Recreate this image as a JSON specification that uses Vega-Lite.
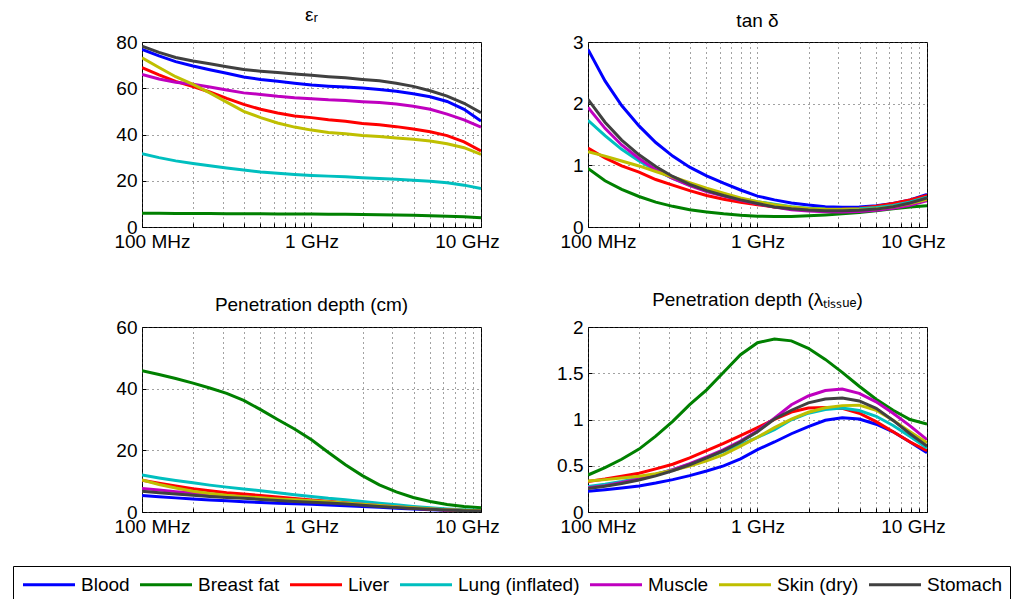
{
  "$schema": "https://vega.github.io/schema/vega-lite/v6.json",
  "background": "white",
  "padding": {"left": 12, "top": 5, "right": 0, "bottom": 0},
  "datasets": {
    "tissues": [
      {"t":"Blood","f":100,"er":76.8,"tan":2.88,"dcm":5.38,"dl":0.224},
      {"t":"Blood","f":126,"er":74.0,"tan":2.37,"dcm":4.97,"dl":0.241},
      {"t":"Blood","f":158,"er":71.5,"tan":1.97,"dcm":4.58,"dl":0.259},
      {"t":"Blood","f":200,"er":69.6,"tan":1.64,"dcm":4.23,"dl":0.281},
      {"t":"Blood","f":251,"er":68.0,"tan":1.37,"dcm":3.91,"dl":0.313},
      {"t":"Blood","f":316,"er":66.5,"tan":1.15,"dcm":3.62,"dl":0.350},
      {"t":"Blood","f":398,"er":64.9,"tan":0.97,"dcm":3.36,"dl":0.393},
      {"t":"Blood","f":501,"er":63.8,"tan":0.83,"dcm":3.08,"dl":0.443},
      {"t":"Blood","f":631,"er":63.0,"tan":0.71,"dcm":2.85,"dl":0.499},
      {"t":"Blood","f":794,"er":62.2,"tan":0.60,"dcm":2.66,"dl":0.575},
      {"t":"Blood","f":1000,"er":61.4,"tan":0.50,"dcm":2.48,"dl":0.674},
      {"t":"Blood","f":1259,"er":60.9,"tan":0.44,"dcm":2.26,"dl":0.757},
      {"t":"Blood","f":1585,"er":60.5,"tan":0.39,"dcm":2.02,"dl":0.846},
      {"t":"Blood","f":1995,"er":60.1,"tan":0.355,"dcm":1.77,"dl":0.924},
      {"t":"Blood","f":2512,"er":59.5,"tan":0.33,"dcm":1.51,"dl":0.991},
      {"t":"Blood","f":3162,"er":58.7,"tan":0.32,"dcm":1.25,"dl":1.020},
      {"t":"Blood","f":3981,"er":57.6,"tan":0.325,"dcm":0.985,"dl":1.005},
      {"t":"Blood","f":5012,"er":56.3,"tan":0.345,"dcm":0.747,"dl":0.949},
      {"t":"Blood","f":6310,"er":54.3,"tan":0.38,"dcm":0.55,"dl":0.867},
      {"t":"Blood","f":7943,"er":50.9,"tan":0.44,"dcm":0.39,"dl":0.757},
      {"t":"Blood","f":10000,"er":45.8,"tan":0.53,"dcm":0.275,"dl":0.640},

      {"t":"Breast fat","f":100,"er":5.9,"tan":0.95,"dcm":45.8,"dl":0.40},
      {"t":"Breast fat","f":126,"er":5.9,"tan":0.75,"dcm":44.6,"dl":0.48},
      {"t":"Breast fat","f":158,"er":5.8,"tan":0.61,"dcm":43.3,"dl":0.57},
      {"t":"Breast fat","f":200,"er":5.8,"tan":0.495,"dcm":41.8,"dl":0.68},
      {"t":"Breast fat","f":251,"er":5.8,"tan":0.404,"dcm":40.2,"dl":0.82},
      {"t":"Breast fat","f":316,"er":5.7,"tan":0.335,"dcm":38.5,"dl":0.98},
      {"t":"Breast fat","f":398,"er":5.7,"tan":0.28,"dcm":36.2,"dl":1.16},
      {"t":"Breast fat","f":501,"er":5.7,"tan":0.244,"dcm":33.2,"dl":1.32},
      {"t":"Breast fat","f":631,"er":5.6,"tan":0.213,"dcm":30.0,"dl":1.51},
      {"t":"Breast fat","f":794,"er":5.6,"tan":0.19,"dcm":26.9,"dl":1.70},
      {"t":"Breast fat","f":1000,"er":5.6,"tan":0.175,"dcm":23.4,"dl":1.83},
      {"t":"Breast fat","f":1259,"er":5.5,"tan":0.171,"dcm":19.3,"dl":1.87},
      {"t":"Breast fat","f":1585,"er":5.5,"tan":0.172,"dcm":15.3,"dl":1.85},
      {"t":"Breast fat","f":1995,"er":5.4,"tan":0.181,"dcm":11.8,"dl":1.77},
      {"t":"Breast fat","f":2512,"er":5.3,"tan":0.195,"dcm":8.8,"dl":1.65},
      {"t":"Breast fat","f":3162,"er":5.2,"tan":0.213,"dcm":6.5,"dl":1.51},
      {"t":"Breast fat","f":3981,"er":5.1,"tan":0.237,"dcm":4.7,"dl":1.36},
      {"t":"Breast fat","f":5012,"er":4.9,"tan":0.265,"dcm":3.4,"dl":1.22},
      {"t":"Breast fat","f":6310,"er":4.7,"tan":0.295,"dcm":2.45,"dl":1.10},
      {"t":"Breast fat","f":7943,"er":4.4,"tan":0.326,"dcm":1.8,"dl":1.00},
      {"t":"Breast fat","f":10000,"er":4.0,"tan":0.345,"dcm":1.35,"dl":0.95},

      {"t":"Liver","f":100,"er":68.9,"tan":1.28,"dcm":10.30,"dl":0.330},
      {"t":"Liver","f":126,"er":65.8,"tan":1.12,"dcm":9.33,"dl":0.356},
      {"t":"Liver","f":158,"er":63.0,"tan":0.99,"dcm":8.41,"dl":0.387},
      {"t":"Liver","f":200,"er":60.7,"tan":0.89,"dcm":7.56,"dl":0.419},
      {"t":"Liver","f":251,"er":58.4,"tan":0.77,"dcm":6.87,"dl":0.466},
      {"t":"Liver","f":316,"er":55.6,"tan":0.68,"dcm":6.26,"dl":0.516},
      {"t":"Liver","f":398,"er":53.0,"tan":0.59,"dcm":5.80,"dl":0.584},
      {"t":"Liver","f":501,"er":50.9,"tan":0.51,"dcm":5.39,"dl":0.664},
      {"t":"Liver","f":631,"er":49.3,"tan":0.45,"dcm":4.90,"dl":0.742},
      {"t":"Liver","f":794,"er":48.0,"tan":0.40,"dcm":4.42,"dl":0.826},
      {"t":"Liver","f":1000,"er":47.3,"tan":0.36,"dcm":3.92,"dl":0.912},
      {"t":"Liver","f":1259,"er":46.4,"tan":0.326,"dcm":3.46,"dl":1.002},
      {"t":"Liver","f":1585,"er":45.7,"tan":0.301,"dcm":2.99,"dl":1.081},
      {"t":"Liver","f":1995,"er":44.8,"tan":0.289,"dcm":2.50,"dl":1.124},
      {"t":"Liver","f":2512,"er":44.2,"tan":0.287,"dcm":2.01,"dl":1.130},
      {"t":"Liver","f":3162,"er":43.4,"tan":0.29,"dcm":1.60,"dl":1.120},
      {"t":"Liver","f":3981,"er":42.4,"tan":0.305,"dcm":1.22,"dl":1.068},
      {"t":"Liver","f":5012,"er":41.2,"tan":0.335,"dcm":0.90,"dl":0.977},
      {"t":"Liver","f":6310,"er":39.5,"tan":0.38,"dcm":0.64,"dl":0.867},
      {"t":"Liver","f":7943,"er":36.8,"tan":0.44,"dcm":0.46,"dl":0.757},
      {"t":"Liver","f":10000,"er":32.9,"tan":0.51,"dcm":0.34,"dl":0.663},

      {"t":"Lung (inflated)","f":100,"er":31.7,"tan":1.73,"dcm":12.00,"dl":0.276},
      {"t":"Lung (inflated)","f":126,"er":30.0,"tan":1.48,"dcm":11.04,"dl":0.300},
      {"t":"Lung (inflated)","f":158,"er":28.6,"tan":1.26,"dcm":10.21,"dl":0.330},
      {"t":"Lung (inflated)","f":200,"er":27.5,"tan":1.07,"dcm":9.47,"dl":0.367},
      {"t":"Lung (inflated)","f":251,"er":26.5,"tan":0.92,"dcm":8.72,"dl":0.408},
      {"t":"Lung (inflated)","f":316,"er":25.5,"tan":0.79,"dcm":8.07,"dl":0.458},
      {"t":"Lung (inflated)","f":398,"er":24.6,"tan":0.68,"dcm":7.47,"dl":0.516},
      {"t":"Lung (inflated)","f":501,"er":23.8,"tan":0.59,"dcm":6.88,"dl":0.584},
      {"t":"Lung (inflated)","f":631,"er":23.2,"tan":0.52,"dcm":6.23,"dl":0.655},
      {"t":"Lung (inflated)","f":794,"er":22.7,"tan":0.46,"dcm":5.62,"dl":0.728},
      {"t":"Lung (inflated)","f":1000,"er":22.3,"tan":0.41,"dcm":5.03,"dl":0.808},
      {"t":"Lung (inflated)","f":1259,"er":22.0,"tan":0.37,"dcm":4.44,"dl":0.889},
      {"t":"Lung (inflated)","f":1585,"er":21.7,"tan":0.328,"dcm":3.99,"dl":0.997},
      {"t":"Lung (inflated)","f":1995,"er":21.3,"tan":0.305,"dcm":3.44,"dl":1.068},
      {"t":"Lung (inflated)","f":2512,"er":21.0,"tan":0.293,"dcm":2.86,"dl":1.109},
      {"t":"Lung (inflated)","f":3162,"er":20.6,"tan":0.289,"dcm":2.33,"dl":1.124},
      {"t":"Lung (inflated)","f":3981,"er":20.2,"tan":0.296,"dcm":1.82,"dl":1.097},
      {"t":"Lung (inflated)","f":5012,"er":19.8,"tan":0.315,"dcm":1.38,"dl":1.035},
      {"t":"Lung (inflated)","f":6310,"er":19.1,"tan":0.35,"dcm":1.00,"dl":0.936},
      {"t":"Lung (inflated)","f":7943,"er":18.1,"tan":0.405,"dcm":0.71,"dl":0.817},
      {"t":"Lung (inflated)","f":10000,"er":16.6,"tan":0.485,"dcm":0.50,"dl":0.693},

      {"t":"Muscle","f":100,"er":66.0,"tan":1.94,"dcm":7.64,"dl":0.261},
      {"t":"Muscle","f":126,"er":64.0,"tan":1.60,"dcm":7.11,"dl":0.285},
      {"t":"Muscle","f":158,"er":62.6,"tan":1.33,"dcm":6.61,"dl":0.319},
      {"t":"Muscle","f":200,"er":61.7,"tan":1.11,"dcm":6.13,"dl":0.358},
      {"t":"Muscle","f":251,"er":60.5,"tan":0.93,"dcm":5.72,"dl":0.405},
      {"t":"Muscle","f":316,"er":59.2,"tan":0.79,"dcm":5.30,"dl":0.458},
      {"t":"Muscle","f":398,"er":58.0,"tan":0.67,"dcm":4.93,"dl":0.523},
      {"t":"Muscle","f":501,"er":57.3,"tan":0.575,"dcm":4.54,"dl":0.597},
      {"t":"Muscle","f":631,"er":56.5,"tan":0.50,"dcm":4.14,"dl":0.674},
      {"t":"Muscle","f":794,"er":55.9,"tan":0.435,"dcm":3.78,"dl":0.767},
      {"t":"Muscle","f":1000,"er":55.5,"tan":0.375,"dcm":3.48,"dl":0.878},
      {"t":"Muscle","f":1259,"er":55.0,"tan":0.322,"dcm":3.22,"dl":1.014},
      {"t":"Muscle","f":1585,"er":54.7,"tan":0.28,"dcm":2.94,"dl":1.159},
      {"t":"Muscle","f":1995,"er":54.2,"tan":0.258,"dcm":2.54,"dl":1.254},
      {"t":"Muscle","f":2512,"er":53.8,"tan":0.246,"dcm":2.12,"dl":1.314},
      {"t":"Muscle","f":3162,"er":53.2,"tan":0.243,"dcm":1.72,"dl":1.330},
      {"t":"Muscle","f":3981,"er":52.2,"tan":0.252,"dcm":1.33,"dl":1.283},
      {"t":"Muscle","f":5012,"er":50.9,"tan":0.272,"dcm":0.99,"dl":1.191},
      {"t":"Muscle","f":6310,"er":48.8,"tan":0.305,"dcm":0.72,"dl":1.067},
      {"t":"Muscle","f":7943,"er":46.3,"tan":0.352,"dcm":0.51,"dl":0.931},
      {"t":"Muscle","f":10000,"er":43.2,"tan":0.425,"dcm":0.35,"dl":0.782},

      {"t":"Skin (dry)","f":100,"er":73.2,"tan":1.22,"dcm":10.39,"dl":0.336},
      {"t":"Skin (dry)","f":126,"er":69.0,"tan":1.15,"dcm":8.91,"dl":0.350},
      {"t":"Skin (dry)","f":158,"er":65.0,"tan":1.07,"dcm":7.76,"dl":0.367},
      {"t":"Skin (dry)","f":200,"er":61.7,"tan":0.99,"dcm":6.75,"dl":0.387},
      {"t":"Skin (dry)","f":251,"er":58.0,"tan":0.90,"dcm":6.01,"dl":0.415},
      {"t":"Skin (dry)","f":316,"er":54.0,"tan":0.81,"dcm":5.43,"dl":0.450},
      {"t":"Skin (dry)","f":398,"er":50.0,"tan":0.72,"dcm":4.98,"dl":0.498},
      {"t":"Skin (dry)","f":501,"er":47.3,"tan":0.63,"dcm":4.59,"dl":0.552},
      {"t":"Skin (dry)","f":631,"er":45.0,"tan":0.55,"dcm":4.24,"dl":0.620},
      {"t":"Skin (dry)","f":794,"er":43.2,"tan":0.47,"dcm":3.99,"dl":0.713},
      {"t":"Skin (dry)","f":1000,"er":41.9,"tan":0.41,"dcm":3.67,"dl":0.808},
      {"t":"Skin (dry)","f":1259,"er":40.9,"tan":0.36,"dcm":3.35,"dl":0.912},
      {"t":"Skin (dry)","f":1585,"er":40.3,"tan":0.325,"dcm":2.96,"dl":1.005},
      {"t":"Skin (dry)","f":1995,"er":39.6,"tan":0.302,"dcm":2.55,"dl":1.078},
      {"t":"Skin (dry)","f":2512,"er":39.1,"tan":0.288,"dcm":2.13,"dl":1.127},
      {"t":"Skin (dry)","f":3162,"er":38.5,"tan":0.282,"dcm":1.74,"dl":1.150},
      {"t":"Skin (dry)","f":3981,"er":37.9,"tan":0.281,"dcm":1.40,"dl":1.155},
      {"t":"Skin (dry)","f":5012,"er":37.2,"tan":0.295,"dcm":1.07,"dl":1.100},
      {"t":"Skin (dry)","f":6310,"er":36.0,"tan":0.33,"dcm":0.77,"dl":0.991},
      {"t":"Skin (dry)","f":7943,"er":34.3,"tan":0.38,"dcm":0.55,"dl":0.867},
      {"t":"Skin (dry)","f":10000,"er":31.4,"tan":0.445,"dcm":0.39,"dl":0.749},

      {"t":"Stomach","f":100,"er":78.2,"tan":2.07,"dcm":6.70,"dl":0.254},
      {"t":"Stomach","f":126,"er":75.5,"tan":1.70,"dcm":6.26,"dl":0.278},
      {"t":"Stomach","f":158,"er":73.3,"tan":1.41,"dcm":5.83,"dl":0.308},
      {"t":"Stomach","f":200,"er":71.8,"tan":1.17,"dcm":5.44,"dl":0.346},
      {"t":"Stomach","f":251,"er":70.6,"tan":0.98,"dcm":5.06,"dl":0.390},
      {"t":"Stomach","f":316,"er":69.3,"tan":0.82,"dcm":4.74,"dl":0.446},
      {"t":"Stomach","f":398,"er":68.1,"tan":0.69,"dcm":4.43,"dl":0.511},
      {"t":"Stomach","f":501,"er":67.4,"tan":0.59,"dcm":4.09,"dl":0.584},
      {"t":"Stomach","f":631,"er":66.8,"tan":0.51,"dcm":3.74,"dl":0.664},
      {"t":"Stomach","f":794,"er":66.2,"tan":0.44,"dcm":3.44,"dl":0.757},
      {"t":"Stomach","f":1000,"er":65.6,"tan":0.38,"dcm":3.16,"dl":0.867},
      {"t":"Stomach","f":1259,"er":65.0,"tan":0.325,"dcm":2.93,"dl":1.005},
      {"t":"Stomach","f":1585,"er":64.5,"tan":0.295,"dcm":2.57,"dl":1.100},
      {"t":"Stomach","f":1995,"er":63.8,"tan":0.275,"dcm":2.20,"dl":1.180},
      {"t":"Stomach","f":2512,"er":63.2,"tan":0.265,"dcm":1.82,"dl":1.222},
      {"t":"Stomach","f":3162,"er":62.2,"tan":0.263,"dcm":1.47,"dl":1.232},
      {"t":"Stomach","f":3981,"er":60.8,"tan":0.27,"dcm":1.15,"dl":1.200},
      {"t":"Stomach","f":5012,"er":58.9,"tan":0.29,"dcm":0.86,"dl":1.120},
      {"t":"Stomach","f":6310,"er":56.6,"tan":0.33,"dcm":0.62,"dl":0.990},
      {"t":"Stomach","f":7943,"er":53.5,"tan":0.39,"dcm":0.43,"dl":0.846},
      {"t":"Stomach","f":10000,"er":49.4,"tan":0.47,"dcm":0.30,"dl":0.713}
    ]
  },
  "data": {"name": "tissues"},
  "columns": 2,
  "bounds": "flush",
  "spacing": {"column": 107, "row": 100},
  "resolve": {"scale": {"y": "independent", "x": "shared", "color": "shared"}},
  "concat": [
    {
      "title": {"text": "εᵣ", "offset": 8},
      "width": 339, "height": 185,
      "mark": {"type": "line", "strokeWidth": 3, "clip": true},
      "encoding": {
        "x": {"field": "f", "type": "quantitative", "scale": {"type": "log", "domain": [100, 10000], "nice": false},
              "axis": {"title": null, "values": [100,200,300,400,500,600,700,800,900,1000,2000,3000,4000,5000,6000,7000,8000,9000,10000],
                       "labelExpr": "datum.value == 100 ? '100 MHz' : datum.value == 1000 ? '1 GHz' : datum.value == 10000 ? '10 GHz' : ''",
                       "labelOffset": {"condition": [{"test": "datum.value == 100", "value": 10}, {"test": "datum.value == 10000", "value": -14}], "value": 0}}},
        "y": {"field": "er", "type": "quantitative", "scale": {"domain": [0, 80], "nice": false},
              "axis": {"title": null, "values": [0,20,40,60,80]}},
        "color": {"field": "t", "type": "nominal",
                  "scale": {"domain": ["Blood","Breast fat","Liver","Lung (inflated)","Muscle","Skin (dry)","Stomach"],
                            "range": ["#0000ff","#008000","#ff0000","#00bfbf","#bf00bf","#bfbf00","#404040"]},
                  "legend": {"orient": "none", "legendX": -129, "legendY": 524, "direction": "horizontal", "title": null}}
      }
    },
    {
      "title": {"text": "tan δ", "offset": 2},
      "width": 339, "height": 185,
      "mark": {"type": "line", "strokeWidth": 3, "clip": true},
      "encoding": {
        "x": {"field": "f", "type": "quantitative", "scale": {"type": "log", "domain": [100, 10000], "nice": false},
              "axis": {"title": null, "values": [100,200,300,400,500,600,700,800,900,1000,2000,3000,4000,5000,6000,7000,8000,9000,10000],
                       "labelExpr": "datum.value == 100 ? '100 MHz' : datum.value == 1000 ? '1 GHz' : datum.value == 10000 ? '10 GHz' : ''",
                       "labelOffset": {"condition": [{"test": "datum.value == 100", "value": 10}, {"test": "datum.value == 10000", "value": -14}], "value": 0}}},
        "y": {"field": "tan", "type": "quantitative", "scale": {"domain": [0, 3], "nice": false},
              "axis": {"title": null, "values": [0,1,2,3]}},
        "color": {"field": "t", "type": "nominal",
                  "scale": {"domain": ["Blood","Breast fat","Liver","Lung (inflated)","Muscle","Skin (dry)","Stomach"],
                            "range": ["#0000ff","#008000","#ff0000","#00bfbf","#bf00bf","#bfbf00","#404040"]},
                  "legend": {"orient": "none", "legendX": -129, "legendY": 524, "direction": "horizontal", "title": null}}
      }
    },
    {
      "title": {"text": "Penetration depth (cm)", "offset": 3},
      "width": 339, "height": 185,
      "mark": {"type": "line", "strokeWidth": 3, "clip": true},
      "encoding": {
        "x": {"field": "f", "type": "quantitative", "scale": {"type": "log", "domain": [100, 10000], "nice": false},
              "axis": {"title": null, "values": [100,200,300,400,500,600,700,800,900,1000,2000,3000,4000,5000,6000,7000,8000,9000,10000],
                       "labelExpr": "datum.value == 100 ? '100 MHz' : datum.value == 1000 ? '1 GHz' : datum.value == 10000 ? '10 GHz' : ''",
                       "labelOffset": {"condition": [{"test": "datum.value == 100", "value": 10}, {"test": "datum.value == 10000", "value": -14}], "value": 0}}},
        "y": {"field": "dcm", "type": "quantitative", "scale": {"domain": [0, 60], "nice": false},
              "axis": {"title": null, "values": [0,20,40,60]}},
        "color": {"field": "t", "type": "nominal",
                  "scale": {"domain": ["Blood","Breast fat","Liver","Lung (inflated)","Muscle","Skin (dry)","Stomach"],
                            "range": ["#0000ff","#008000","#ff0000","#00bfbf","#bf00bf","#bfbf00","#404040"]},
                  "legend": {"orient": "none", "legendX": -129, "legendY": 524, "direction": "horizontal", "title": null}}
      }
    },
    {
      "title": {"text": "Penetration depth (λₜᵢₛₛᵤₑ)", "offset": 8},
      "width": 339, "height": 185,
      "mark": {"type": "line", "strokeWidth": 3, "clip": true},
      "encoding": {
        "x": {"field": "f", "type": "quantitative", "scale": {"type": "log", "domain": [100, 10000], "nice": false},
              "axis": {"title": null, "values": [100,200,300,400,500,600,700,800,900,1000,2000,3000,4000,5000,6000,7000,8000,9000,10000],
                       "labelExpr": "datum.value == 100 ? '100 MHz' : datum.value == 1000 ? '1 GHz' : datum.value == 10000 ? '10 GHz' : ''",
                       "labelOffset": {"condition": [{"test": "datum.value == 100", "value": 10}, {"test": "datum.value == 10000", "value": -14}], "value": 0}}},
        "y": {"field": "dl", "type": "quantitative", "scale": {"domain": [0, 2], "nice": false},
              "axis": {"title": null, "values": [0,0.5,1,1.5,2], "format": "~g"}},
        "color": {"field": "t", "type": "nominal",
                  "scale": {"domain": ["Blood","Breast fat","Liver","Lung (inflated)","Muscle","Skin (dry)","Stomach"],
                            "range": ["#0000ff","#008000","#ff0000","#00bfbf","#bf00bf","#bfbf00","#404040"]},
                  "legend": {"orient": "none", "legendX": -129, "legendY": 524, "direction": "horizontal", "title": null}}
      }
    }
  ],
  "config": {
    "font": "Liberation Sans",
    "view": {"stroke": "#000000", "strokeWidth": 1},
    "title": {"fontSize": 19, "fontWeight": "normal", "color": "#000000", "font": "Liberation Sans", "baseline": "alphabetic", "anchor": "middle"},
    "axis": {
      "domain": false,
      "grid": true,
      "gridColor": "#444444",
      "gridDash": [1, 4],
      "gridWidth": 1,
      "ticks": true,
      "tickSize": -4,
      "tickColor": "#000000",
      "labelFont": "Liberation Sans",
      "labelFontSize": 19,
      "labelColor": "#000000",
      "labelPadding": 9
    },
    "axisX": {"labelPadding": 9, "labelFlush": false},
    "legend": {
      "symbolType": "M-2.889,0H2.889",
      "symbolSize": 324,
      "symbolStrokeWidth": 3,
      "symbolOffset": 17.5,
      "labelFont": "Liberation Sans",
      "labelFontSize": 19,
      "labelColor": "#000000",
      "labelOffset": 21.5,
      "columnPadding": 3,
      "strokeColor": "#000000",
      "fillColor": "#ffffff",
      "padding": 8,
      "labelLimit": 300
    }
  }
}
